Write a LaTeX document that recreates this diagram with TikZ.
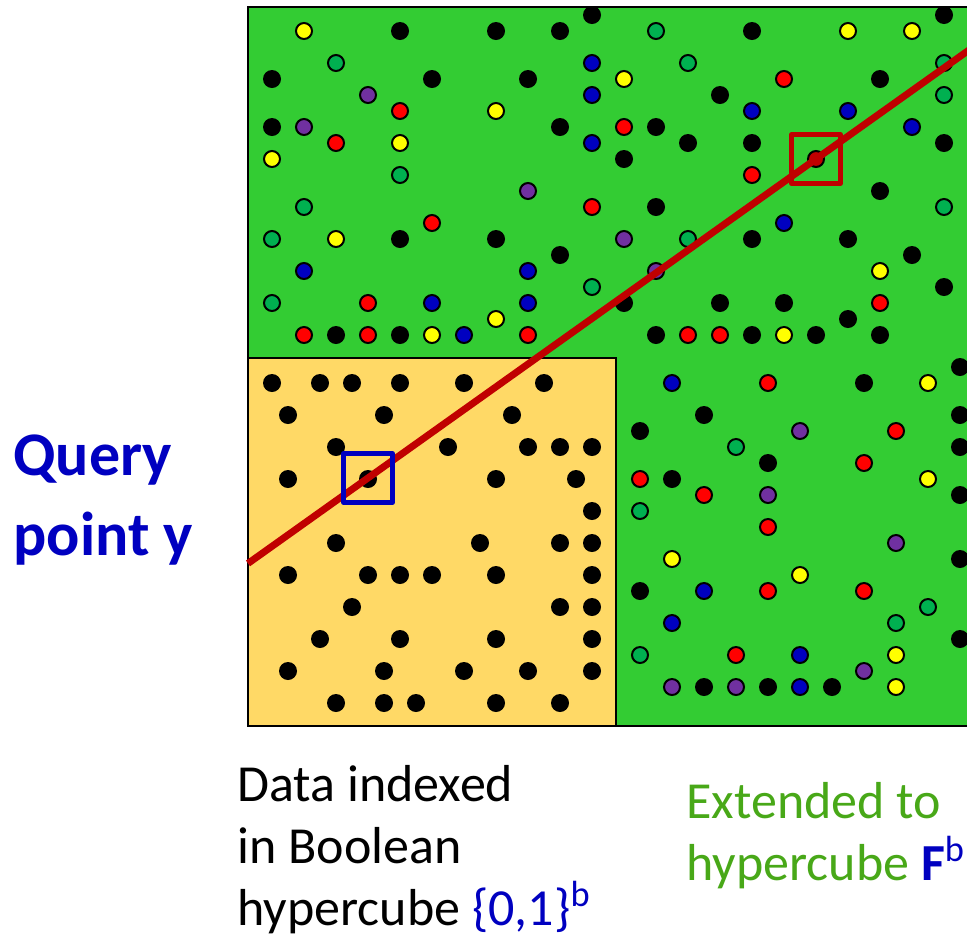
\documentclass[tikz,border=0pt]{standalone}
\usepackage{fontspec}
\setmainfont{Carlito}

\definecolor{cubegreen}{RGB}{51,204,51}
\definecolor{cubeyellow}{RGB}{255,217,102}
\definecolor{dotred}{RGB}{255,0,0}
\definecolor{dotblue}{RGB}{0,0,192}
\definecolor{dotpurple}{RGB}{112,48,160}
\definecolor{dotteal}{RGB}{0,176,80}
\definecolor{dotyellow}{RGB}{255,255,0}
\definecolor{linered}{RGB}{192,0,0}
\definecolor{textgreen}{RGB}{72,168,24}

\begin{document}
\begin{tikzpicture}[x=0.5pt, y=-0.5pt]

  % =======================================================
  % PARAMETERS
  % =======================================================
  \def\Xo{272}   % x of the first grid column
  \def\Yo{15}    % y of the first grid row
  \def\Step{16}  % grid step
  \def\Rdot{4pt} % radius of an outlined point
  
  \tikzset{
    pointdot/.style={draw=black, line width=1pt},
    hitbox/.style={line width=2.2pt, minimum size=24.5pt, inner sep=0pt, line join=round},
    label/.style={anchor=base west, align=left, inner sep=0pt}
  }

  \useasboundingbox (0,0) rectangle (967,939);

  % =======================================================
  % 1. Hypercubes
  % =======================================================
  \fill[cubegreen] (248,7) rectangle (980,726);
  \draw[line width=1pt] (980,7) -- (248,7) -- (248,726) -- (980,726);
  \filldraw[fill=cubeyellow, line width=1pt] (248,358) rectangle (616,726);

  % =======================================================
  % 2. Data points (grid column / grid row)
  % =======================================================
  % Black points
  \foreach \i/\j in {8/1, 0/4, 10/4, 0/7, 8/14, 20/0, 14/1, 18/1, 16/4, 28/5,
                     18/7, 24/7, 26/8, 22/9, 24/12, 14/14, 42/0, 30/1, 38/4, 30/8,
                     42/8, 38/11, 30/14, 36/14, 4/20, 8/20, 18/15, 22/18, 28/18, 24/20,
                     40/15, 42/17, 32/18, 36/19, 30/20, 34/20, 38/20, 43/22, 37/23, 43/25,
                     43/27, 31/28, 27/25, 23/26, 25/29, 27/42, 43/30, 43/34, 43/39, 31/42,
                     35/42, 23/36,
                     0/23, 3/23, 5/23, 8/23, 12/23, 17/23, 1/25, 7/25, 15/25,
                     4/27, 11/27, 16/27, 18/27, 20/27, 1/29, 6/29, 14/29, 19/29, 20/31,
                     4/33, 13/33, 18/33, 20/33, 1/35, 6/35, 8/35, 10/35, 14/35, 20/35,
                     5/37, 18/37, 20/37, 3/39, 8/39, 14/39, 20/39,
                     1/41, 7/41, 12/41, 16/41, 20/41, 4/43, 7/43, 9/43, 14/43, 18/43}
    \fill[black] ({\Xo+\i*\Step},{\Yo+\j*\Step}) circle[radius=4.5pt];

  % Yellow points
  \foreach \i/\j in {2/1, 8/8, 0/9, 4/14, 22/4, 14/6, 36/1, 40/1, 10/20, 14/19,
                     38/16, 32/20, 41/23, 41/29, 25/34, 33/35, 39/40, 39/42}
    \filldraw[pointdot, fill=dotyellow] ({\Xo+\i*\Step},{\Yo+\j*\Step}) circle[radius=\Rdot];

  % Red points
  \foreach \i/\j in {8/6, 4/8, 10/13, 22/7, 20/12, 32/4, 30/10, 6/18, 2/20, 6/20,
                     16/20, 26/20, 28/20, 38/18, 31/23, 39/26, 37/28, 23/29, 27/30,
                     31/32, 31/36, 37/36, 29/40}
    \filldraw[pointdot, fill=dotred] ({\Xo+\i*\Step},{\Yo+\j*\Step}) circle[radius=\Rdot];

  % Blue points
  \foreach \i/\j in {20/3, 20/5, 20/8, 30/6, 36/6, 40/7, 32/13, 2/16, 10/18, 12/20,
                     16/16, 16/18, 25/23, 27/36, 25/38, 33/40, 33/42}
    \filldraw[pointdot, fill=dotblue] ({\Xo+\i*\Step},{\Yo+\j*\Step}) circle[radius=\Rdot];

  % Purple points
  \foreach \i/\j in {6/5, 2/7, 16/11, 22/14, 24/16, 33/26, 31/30, 39/33, 37/41,
                     25/42, 29/42}
    \filldraw[pointdot, fill=dotpurple] ({\Xo+\i*\Step},{\Yo+\j*\Step}) circle[radius=\Rdot];

  % Teal points
  \foreach \i/\j in {4/3, 8/10, 2/12, 0/14, 24/1, 26/3, 26/14, 42/3, 42/5, 42/12,
                     0/18, 20/17, 29/27, 23/31, 41/37, 39/38, 23/40}
    \filldraw[pointdot, fill=dotteal] ({\Xo+\i*\Step},{\Yo+\j*\Step}) circle[radius=\Rdot];

  % Matched point
  \filldraw[pointdot, fill=linered] ({\Xo+34*\Step},{\Yo+9*\Step}) circle[radius=\Rdot];

  % =======================================================
  % 3. Query line and boxes
  % =======================================================
  \coordinate (linestart) at (248,563.4);
  \coordinate (lineend) at (980,42.2);
  \draw[linered, line width=3.5pt] (linestart) -- (lineend);

  \node[hitbox, draw=dotblue] (querybox) at (368,478) {};
  \node[hitbox, draw=linered] (matchbox) at (816,159) {};

  % =======================================================
  % 4. Labels (anchored at the baseline of the last line)
  % =======================================================
  \node[label, text=dotblue, font=\bfseries\fontsize{31}{40}\selectfont] (query)
    at (13,555) {Query\\point y};
  \node[label, font=\fontsize{26}{31}\selectfont] (boolean)
    at (237,925) {Data indexed\\in Boolean\\hypercube \textcolor{dotblue}{\{0,1\}\textsuperscript{b}}};
  \node[label, text=textgreen, font=\fontsize{26}{31}\selectfont] (extended)
    at (686,880) {Extended to\\hypercube \textcolor{dotblue}{\textbf{F}\textsuperscript{b}}};

\end{tikzpicture}
\end{document}
